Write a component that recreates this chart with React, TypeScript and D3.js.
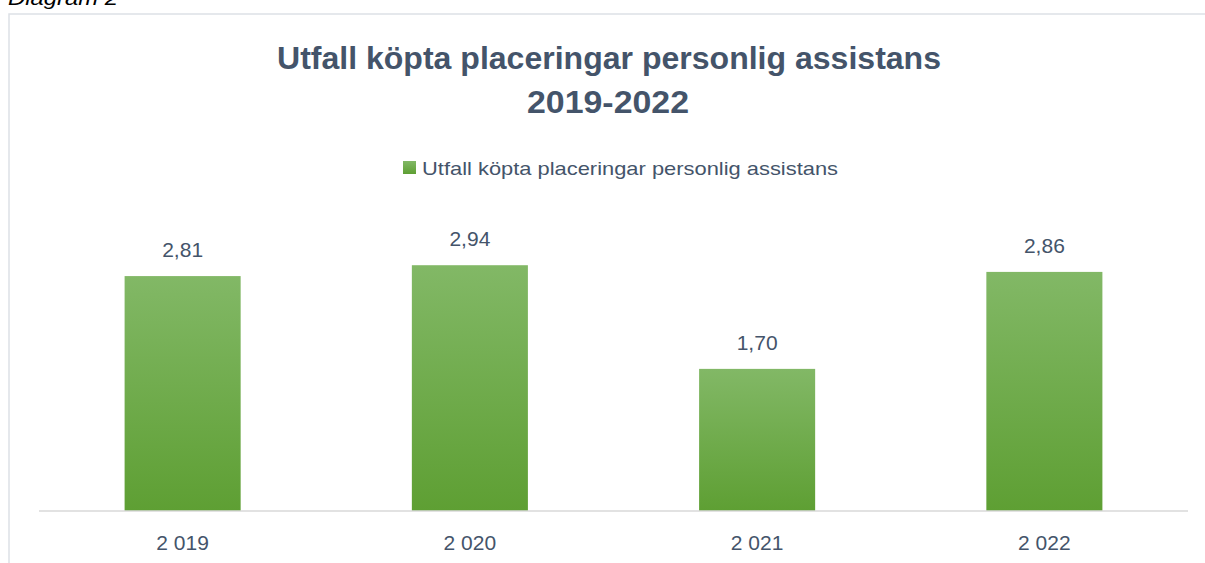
import React from "react"
import { scaleBand, scaleLinear, formatLocale } from "d3"

// values
const years = [2019, 2020, 2021, 2022]
const values = [2.81, 2.94, 1.7, 2.86]
const seriesName = "Utfall köpta placeringar personlig assistans"
const titleLines = ["Utfall köpta placeringar personlig assistans", "2019-2022"]
const caption = "Diagram 2"

const sv = formatLocale({ decimal: ",", thousands: "\u00a0", grouping: [3], currency: ["", " kr"] })
const fmtValue = sv.format(".2f")
const fmtYear = sv.format(",")

const textColor = "#44546a"
const gridColor = "#d9d9d9"
const font = "'Liberation Sans', Arial, sans-serif"

export default function App() {
  const W = 1205
  const H = 563
  const plot = { left: 39, right: 1188, bottom: 511 }

  const x = scaleBand<number>()
    .domain(years)
    .range([plot.left, plot.right])
    .paddingInner(0.596)
    .paddingOuter(0.298)

  const y = scaleLinear()
    .domain([0, 3.5])
    .range([plot.bottom, plot.bottom - 3.5 * 83.6])

  return (
    <svg width={W} height={H} style={{ position: "absolute", left: 0, top: 0, background: "#fff" }}>
      <defs>
        <linearGradient id="barFill" x1="0" y1="0" x2="0" y2="1">
          <stop offset="0%" stopColor="#82b866" />
          <stop offset="100%" stopColor="#5e9f33" />
        </linearGradient>
      </defs>

      <text x={8} y={5} fontFamily={font} fontStyle="italic" fontSize={20} fill="#000"
        textLength={110} lengthAdjust="spacingAndGlyphs">
        {caption}
      </text>

      {/* chart frame, runs off the page on the right and bottom */}
      <rect x={9} y={14} width={W + 10} height={H + 10} fill="none" stroke="#dde1e6" strokeWidth={1.5} />

      <text textAnchor="middle" fontFamily={font} fontWeight="bold" fontSize={32} fill={textColor}>
        <tspan x={609} y={69} textLength={664} lengthAdjust="spacingAndGlyphs">{titleLines[0]}</tspan>
        <tspan x={608} y={113} textLength={162} lengthAdjust="spacingAndGlyphs">{titleLines[1]}</tspan>
      </text>

      <g>
        <rect x={403} y={161} width={13} height={13} fill="url(#barFill)" />
        <text x={422} y={175} fontFamily={font} fontSize={19} fill={textColor}
          textLength={416} lengthAdjust="spacingAndGlyphs">
          {seriesName}
        </text>
      </g>

      <g>
        {years.map((yr, i) => (
          <rect key={yr} x={x(yr)} y={y(values[i])} width={x.bandwidth()}
            height={y(0) - y(values[i])} fill="url(#barFill)" />
        ))}
      </g>

      <line x1={plot.left} x2={plot.right} y1={plot.bottom} y2={plot.bottom} stroke={gridColor} strokeWidth={1.5} />

      <g fontFamily={font} fontSize={21} fill={textColor} textAnchor="middle">
        {years.map((yr, i) => (
          <text key={"v" + yr} x={(x(yr) || 0) + x.bandwidth() / 2} y={y(values[i]) - 19}>
            {fmtValue(values[i])}
          </text>
        ))}
        {years.map(yr => (
          <text key={"c" + yr} x={(x(yr) || 0) + x.bandwidth() / 2} y={550}>
            {fmtYear(yr)}
          </text>
        ))}
      </g>
    </svg>
  )
}
